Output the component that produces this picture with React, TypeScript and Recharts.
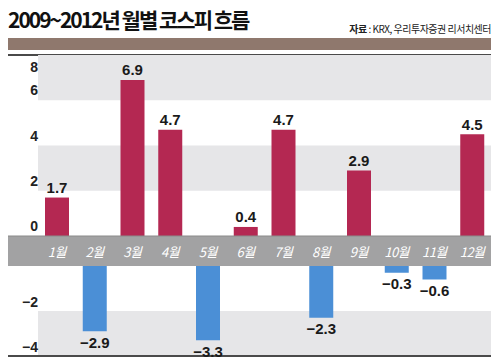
import { BarChart, Bar, XAxis, YAxis, ReferenceArea, ReferenceLine, LabelList } from "recharts";

const months = ["1월", "2월", "3월", "4월", "5월", "6월", "7월", "8월", "9월", "10월", "11월", "12월"];
const returns = [1.7, -2.9, 6.9, 4.7, -3.3, 0.4, 4.7, -2.3, 2.9, -0.3, -0.6, 4.5];
const upTicks = [0, 2, 4, 6, 8];
const downTicks = [-2, -4];

const topData = months.map((m, i) => ({ month: m, up: returns[i] > 0 ? returns[i] : null }));
const bottomData = months.map((m, i) => ({ month: m, down: returns[i] < 0 ? returns[i] : null }));

const RED = "#b42852";
const BLUE = "#4b8fd6";
const BAND = "#e6e6e8";
const NUM_FONT = "'Liberation Sans', Arial, sans-serif";
const KR_FONT = "'Noto Sans CJK KR', sans-serif";

const fmt = (v: number) => (v < 0 ? "\u2212" + Math.abs(v).toFixed(1) : v.toFixed(1));

function YTick(props: any) {
    const { y, payload } = props;
    const v = payload.value;
    const dy = v === 8 ? 12 : v < 0 ? -9 : -10;
    return (
        <text x={30} y={y + dy} textAnchor="end" dominantBaseline="central"
            fontFamily={NUM_FONT} fontWeight={700} fontSize={14} fill="#222">
            {v < 0 ? "\u2212" + Math.abs(v) : v}
        </text>
    );
}

function MonthTick(props: any) {
    const { x, payload } = props;
    return (
        <text x={x} y={196} textAnchor="middle" dominantBaseline="central"
            fontFamily={KR_FONT} fontStyle="italic" fontSize={13} letterSpacing={-0.5} fill="#fff">
            {payload.value}
        </text>
    );
}

function ValueLabel(props: any) {
    const { x, y, width, height, value } = props;
    if (value == null) return null;
    const top = Math.min(y, y + height);
    const bottom = Math.max(y, y + height);
    const neg = value < 0;
    return (
        <text x={x + width / 2} y={neg ? bottom + 11 : top - 10} textAnchor="middle" dominantBaseline="central"
            fontFamily={NUM_FONT} fontWeight={700} fontSize={15} fill="#1a1a1a">
            {fmt(value)}
        </text>
    );
}

export default function App() {
    return (
        <div style={{ position: "relative", width: 484, height: 354 }}>
            {/* title + source */}
            <div style={{ position: "absolute", left: 0, top: -4, fontFamily: KR_FONT,
                fontWeight: 700, fontSize: 21, letterSpacing: -2, color: "#111", whiteSpace: "nowrap" }}>
                2009~2012년 월별 코스피 흐름
            </div>
            <div style={{ position: "absolute", right: 1, top: 13, fontFamily: KR_FONT,
                fontSize: 10, letterSpacing: -0.5, color: "#222", whiteSpace: "nowrap" }}>
                <b>자료</b> : KRX, 우리투자증권 리서치센터
            </div>
            <div style={{ position: "absolute", left: 0, top: 30, width: 483, height: 12, background: "#8f786d" }} />
            <div style={{ position: "absolute", left: 0, top: 46, width: 483, height: 2, background: "#4a4a4a" }} />

            {/* month label strip */}
            <div style={{ position: "absolute", left: 0, top: 228, width: 483, height: 30, background: "#a2a2a3" }} />

            <div style={{ position: "absolute", left: 0, top: 47 }}>
                <BarChart width={484} height={211} data={topData} margin={{ top: 0, right: 1, left: 0, bottom: 0 }}>
                    <ReferenceArea y1={6} y2={8} fill={BAND} fillOpacity={1} stroke="none" />
                    <ReferenceArea y1={2} y2={4} fill={BAND} fillOpacity={1} stroke="none" />
                    <XAxis dataKey="month" height={30} padding={{ left: 30, right: 0 }} axisLine={false}
                        tickLine={false} tick={<MonthTick />} interval={0} />
                    <YAxis domain={[0, 8]} ticks={upTicks} mirror width={30} axisLine={false} tickLine={false}
                        tick={<YTick />} interval={0} />
                    <ReferenceLine y={0} stroke="#8a8a8a" strokeWidth={1} />
                    <Bar dataKey="up" fill={RED} barSize={24} isAnimationActive={false}>
                        <LabelList dataKey="up" content={<ValueLabel />} />
                    </Bar>
                </BarChart>
            </div>

            <div style={{ position: "absolute", left: 0, top: 258 }}>
                <BarChart width={484} height={96} data={bottomData} margin={{ top: 0, right: 1, left: 0, bottom: 6 }}>
                    <ReferenceArea y1={-4} y2={-2} fill={BAND} fillOpacity={1} stroke="none" />
                    <XAxis dataKey="month" hide padding={{ left: 30, right: 0 }} />
                    <YAxis domain={[-4, 0]} ticks={downTicks} mirror width={30} axisLine={false} tickLine={false}
                        tick={<YTick />} interval={0} />
                    <Bar dataKey="down" fill={BLUE} barSize={24} isAnimationActive={false}>
                        <LabelList dataKey="down" content={<ValueLabel />} />
                    </Bar>
                    <ReferenceLine y={-4} stroke="#4a4a4a" strokeWidth={2} />
                </BarChart>
            </div>
        </div>
    );
}
